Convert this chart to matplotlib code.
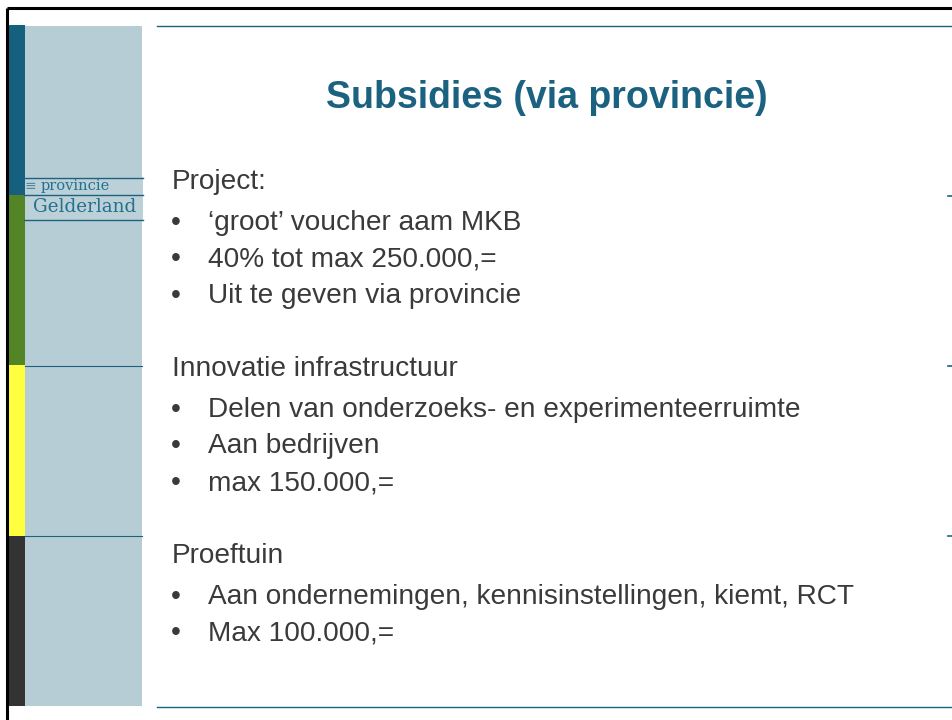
import matplotlib.pyplot as plt
from matplotlib.patches import Rectangle

# -----------------------------
# slide content
# -----------------------------
title = "Subsidies (via provincie)"

sections = ["Project:", "Innovatie infrastructuur", "Proeftuin"]
bullets = [
    ["\u2018groot\u2019 voucher aam MKB",
     "40% tot max 250.000,=",
     "Uit te geven via provincie"],
    ["Delen van onderzoeks- en experimenteerruimte",
     "Aan bedrijven",
     "max 150.000,="],
    ["Aan ondernemingen, kennisinstellingen, kiemt, RCT",
     "Max 100.000,="],
]

# colour bands on the left strip (top, bottom, colour)
bands = [(25, 195, "#15607f"), (195, 365, "#538526"),
         (365, 536, "#ffff40"), (536, 706, "#333333")]

teal = "#1b6281"
text_col = "#3a3a3a"
panel_col = "#b7cdd5"

W, H = 953, 720
fig = plt.figure(figsize=(W / 100, H / 100), dpi=100)
ax = fig.add_axes([0, 0, 1, 1])
ax.set_xlim(0, W)
ax.set_ylim(H, 0)
ax.axis("off")

# outer black frame (top and left)
ax.plot([7.5, W], [7.5, 7.5], color="black", lw=2.2, solid_capstyle="butt")
ax.plot([7.5, 7.5], [7.5, H], color="black", lw=2.2, solid_capstyle="butt")

# left panel + colour strip
ax.add_patch(Rectangle((25, 26), 117, 680, color=panel_col, lw=0))
for top, bot, col in bands:
    ax.add_patch(Rectangle((9, top), 16, bot - top, color=col, lw=0))

# logo band
ax.add_patch(Rectangle((25, 177), 118, 43, color="#bcd0d8", lw=0))
for y in [177.5, 194.5, 219.5]:
    ax.plot([24, 143], [y, y], color=teal, lw=1.0)
ax.text(25, 186, "\u2261", color="#4f8aa3", fontsize=10, va="center",
        ha="left", family="DejaVu Sans")
ax.text(41, 186, "provincie", color="#23708f", fontsize=10.5, va="center",
        ha="left", family="DejaVu Serif")
ax.text(33, 207, "Gelderland", color="#23708f", fontsize=13.2, va="center",
        ha="left", family="DejaVu Serif")

# separator lines in panel and ticks at the right edge
for y in [365.5, 535.5]:
    ax.plot([25, 142], [y, y], color=teal, lw=0.8)
for y in [195.5, 365.5, 535.5]:
    ax.plot([948, W], [y, y], color=teal, lw=1.2)

# top and bottom rules
ax.plot([157, W], [25.5, 25.5], color=teal, lw=1.0)
ax.plot([157, W], [706.5, 706.5], color=teal, lw=1.0)

# title
ax.text(547, 108, title, color=teal, fontsize=27, fontweight="bold",
        ha="center", va="baseline", family="Liberation Sans")

# body text
heading_y = [189, 376, 563]
bullet_dy = [41, 77, 114]
for head, items, y0 in zip(sections, bullets, heading_y):
    ax.text(172, y0, head, color=text_col, fontsize=20.2, ha="left",
            va="baseline", family="Liberation Sans")
    for item, dy in zip(items, bullet_dy):
        y = y0 + dy
        ax.text(171, y, "\u2022", color=text_col, fontsize=20.2, ha="left",
                va="baseline", family="Liberation Sans")
        ax.text(208, y, item, color=text_col, fontsize=20.2, ha="left",
                va="baseline", family="Liberation Sans")

fig.savefig("out.png", dpi=100)
